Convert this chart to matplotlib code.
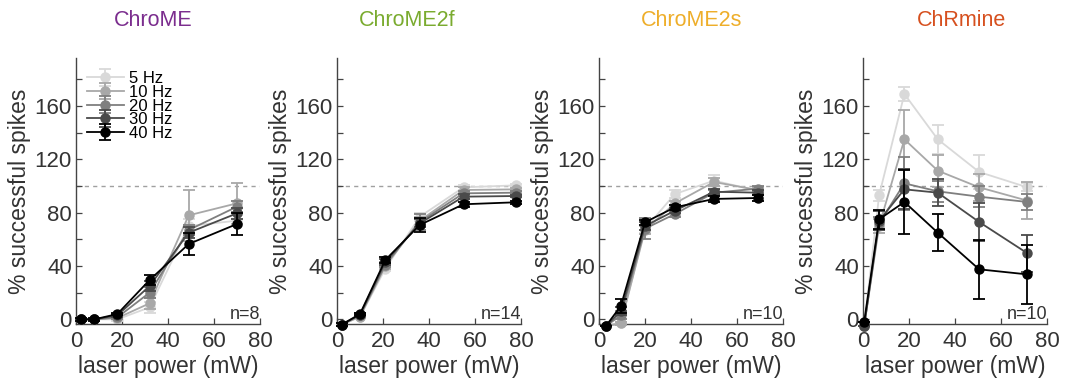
import matplotlib
matplotlib.use("Agg")
import matplotlib.pyplot as plt
import numpy as np

plt.rcParams['font.family'] = ['Liberation Sans', 'DejaVu Sans']

# ---------------- data ----------------
freq_labels = ["5 Hz", "10 Hz", "20 Hz", "30 Hz", "40 Hz"]
freq_colors = ["#d9d9d9", "#a8a8a8", "#7f7f7f", "#4a4a4a", "#000000"]

titles = ["ChroME", "ChroME2f", "ChroME2s", "ChRmine"]
title_colors = ["#7b2d8e", "#7aab2f", "#eeae2a", "#d6501f"]
n_labels = ["n=8", "n=14", "n=10", "n=10"]

# ChroME
chrome_x = [2, 8, 18, 32, 49, 70]
chrome_y = [
    [0, 0, 0, 9, 70, 74],
    [0, 0, 1, 12, 78, 87],
    [0, 0, 1.5, 20, 67, 84.5],
    [0, 0, 3, 25, 65, 79.5],
    [0, 0, 4, 29.5, 56.5, 71.5],
]
chrome_err = [
    [0, 0, 1, 4, 5, 4],
    [0, 0, 1, 4, 19, 15.5],
    [0, 0, 1, 4, 4, 4],
    [0, 0, 1, 4, 4, 4],
    [1, 1, 1, 4, 8, 8],
]

# ChroME2f
chrome2f_x = [2, 10, 21, 36, 55, 78]
chrome2f_y = [
    [-4, 2, 38, 77, 99, 100.5],
    [-4, 2, 40, 74, 97, 97.5],
    [-4, 3, 41, 73, 94.5, 95],
    [-4, 3.5, 43, 72, 92, 92.5],
    [-4, 4, 44.5, 70.8, 86.3, 87.8],
]
chrome2f_err = [
    [1, 1, 2, 3, 2, 1],
    [1, 1, 2, 3, 2, 1],
    [1, 1, 2, 6, 2, 1],
    [1, 1, 2, 3, 2, 1],
    [1, 1, 2, 5, 2, 1],
]

# ChroME2s
chrome2s_x = [3, 9.5, 20, 33, 50, 69]
chrome2s_y = [
    [-5, -3, 68, 94, 104, 96.5],
    [-5, -3, 67, 87, 103, 97],
    [-5, 3, 68, 79, 95, 98],
    [-5, 6, 70, 81.5, 95.7, 95],
    [-5, 10, 72.8, 84, 90.3, 91],
]
chrome2s_err = [
    [0, 1, 3, 3, 4, 2],
    [0, 1, 3, 2, 3, 2],
    [0, 3, 8, 2, 2, 2],
    [0, 3, 3, 2, 2, 2],
    [0, 5, 2, 2, 2, 2],
]

# ChRmine
chrmine_x = [0.5, 7, 18, 32.5, 50.5, 71.5]
chrmine_y = [
    [-5, 93, 169, 135, 110.5, 99],
    [-5, 70, 135, 111.5, 99, 89],
    [-5, 72, 102, 96, 92, 88],
    [-5, 74, 97.5, 95, 73, 49.5],
    [-2, 75, 88, 65, 37.5, 33.7],
]
chrmine_err = [
    [0, 4, 5, 11, 13, 3],
    [0, 5, 22, 12, 10, 14],
    [0, 5, 20, 8, 8, 6],
    [0, 7, 15, 10, 14, 14],
    [0, 7, 24, 14, 22, 22],
]

panels = [
    (chrome_x, chrome_y, chrome_err),
    (chrome2f_x, chrome2f_y, chrome2f_err),
    (chrome2s_x, chrome2s_y, chrome2s_err),
    (chrmine_x, chrmine_y, chrmine_err),
]

y_major = [0, 40, 80, 120, 160]
y_minor = [20, 60, 100, 140, 180]
x_ticks = [0, 20, 40, 60, 80]

# ---------------- figure ----------------
W, H = 1068, 391
fig = plt.figure(figsize=(W / 100, H / 100), dpi=100)

lefts_px = [76, 337, 599, 863]
ax_w_px = 184
top_px, bot_px = 58, 324
title_cx = [153, 407, 692, 961]

txt_col = "#333333"

for i, (xs, ys, es) in enumerate(panels):
    ax = fig.add_axes([lefts_px[i] / W, 1 - bot_px / H, ax_w_px / W, (bot_px - top_px) / H])
    ax.set_xlim(0, 80)
    ax.set_ylim(-3.5, 196)
    ax.axhline(100, color="#a0a0a0", ls=(0, (3, 3)), lw=1.0, zorder=1)
    handles = []
    for k in range(5):
        h = ax.errorbar(xs, ys[k], yerr=es[k], color=freq_colors[k], marker="o",
                        markersize=6.5, lw=1.3, elinewidth=1.3, capsize=4, capthick=1.3,
                        label=freq_labels[k], clip_on=False, zorder=2 + k)
        h.lines[0].set_clip_on(False)
        for a in h.lines[1]:
            a.set_clip_on(False)
        for col in h.lines[2]:
            col.set_clip_on(False)
        handles.append(h)
    for s in ["top", "right"]:
        ax.spines[s].set_visible(False)
    for s in ["left", "bottom"]:
        ax.spines[s].set_color("#444444")
        ax.spines[s].set_linewidth(1.0)
    ax.set_yticks(y_major)
    ax.set_yticks(y_minor, minor=True)
    ax.set_xticks(x_ticks)
    ax.tick_params(axis="both", which="both", direction="in", colors="#444444",
                   labelcolor=txt_col, labelsize=16, length=4, width=0.9)
    ax.tick_params(axis="y", pad=3)
    ax.tick_params(axis="x", pad=5)
    ax.set_xlabel("laser power (mW)", fontsize=16.5, color=txt_col, labelpad=2)
    ax.set_ylabel("% successful spikes", fontsize=16.5, color=txt_col)
    ax.yaxis.set_label_coords(-0.245, 0.5)
    ax.text(1.0, 0.005, n_labels[i], transform=ax.transAxes, ha="right", va="bottom",
            fontsize=13, color=txt_col)
    fig.text(title_cx[i] / W, 1 - 20 / H, titles[i], ha="center", va="center",
             fontsize=15.5, color=title_colors[i])
    if i == 0:
        ax.legend(handles=handles, loc="upper left", bbox_to_anchor=(0.06, 0.95),
                  frameon=False, fontsize=12, handlelength=2.2, handletextpad=0.3,
                  labelspacing=-0.08, borderaxespad=0.0, borderpad=0.0)

fig.savefig("out.png", dpi=100)
